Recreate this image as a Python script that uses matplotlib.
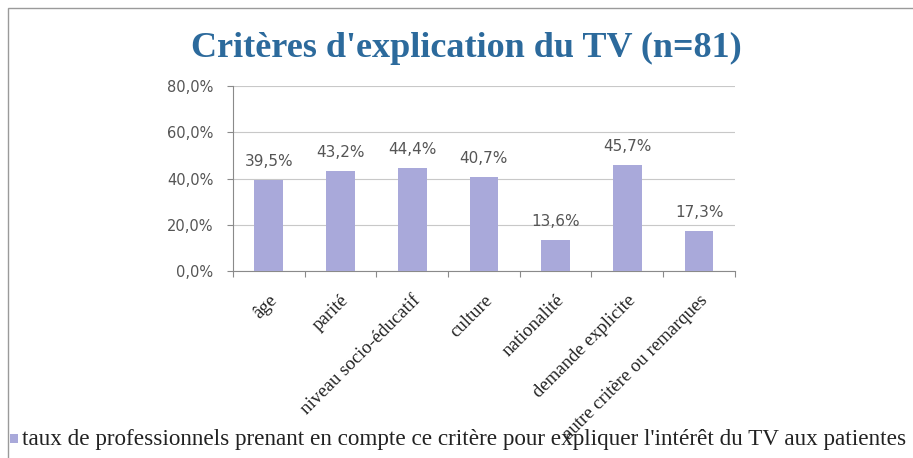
import matplotlib.pyplot as plt
from matplotlib.patches import Rectangle
import numpy as np

# Données du graphique
criteres = ["âge", "parité", "niveau socio-éducatif", "culture", "nationalité",
            "demande explicite", "autre critère ou remarques"]
taux = [39.5, 43.2, 44.4, 40.7, 13.6, 45.7, 17.3]
graduations = [0, 20, 40, 60, 80]
titre = "Critères d'explication du TV (n=81)"
legende = "taux de professionnels prenant en compte ce critère pour expliquer l'intérêt du TV aux patientes"

couleur_barre = "#a9a9da"
gris = "#8a8a8a"

fig = plt.figure(figsize=(9.13, 4.58), dpi=100)
ax = fig.add_axes([0.255, 0.408, 0.55, 0.404])

x = np.arange(len(criteres))
ax.bar(x, taux, width=0.4, color=couleur_barre, zorder=3)

# Étiquettes de valeur au-dessus des barres
for xi, v in zip(x, taux):
    ax.text(xi, v + 8, f"{v:.1f}%".replace(".", ","), ha="center", va="center",
            fontsize=11, color="#555555", family="DejaVu Sans", zorder=4)

ax.set_xlim(-0.5, len(criteres) - 0.5)
ax.set_ylim(0, 80)
ax.set_yticks(graduations)
ax.set_yticklabels([f"{g:.1f}%".replace(".", ",") for g in graduations],
                   fontsize=10.5, color="#555555")
ax.yaxis.grid(True, color="#c8c8c8", linewidth=0.8, zorder=0)

# Graduations de l'axe x entre les catégories
ax.set_xticks(np.arange(-0.5, len(criteres), 1.0))
ax.set_xticklabels([])
ax.set_xticks(x, minor=True)
ax.set_xticklabels(criteres, minor=True, rotation=45, ha="right", va="top",
                   rotation_mode="anchor", fontsize=13.5, family="Liberation Serif",
                   color="#222222")
ax.tick_params(axis="x", which="minor", length=0, pad=15)
ax.tick_params(axis="x", which="major", length=4, color=gris)
ax.tick_params(axis="y", length=4, color=gris, pad=10)

for cote in ["top", "right"]:
    ax.spines[cote].set_visible(False)
for cote in ["left", "bottom"]:
    ax.spines[cote].set_color(gris)
    ax.spines[cote].set_linewidth(0.8)

fig.text(0.511, 0.895, titre, ha="center", va="center", fontsize=26,
         fontweight="bold", family="Liberation Serif", color="#2c6a9c")

# Légende en bas
fig.patches.append(Rectangle((0.011, 0.032), 0.009, 0.02, transform=fig.transFigure,
                             facecolor=couleur_barre, edgecolor="none"))
fig.text(0.024, 0.040, legende, ha="left", va="center", fontsize=16.7,
         family="Liberation Serif", color="#222222")

# Cadre du graphique
fig.patches.append(Rectangle((0.009, -0.01), 0.995, 0.992, transform=fig.transFigure,
                             fill=False, edgecolor="#9a9a9a", linewidth=1))

fig.savefig("out.png", dpi=100)
